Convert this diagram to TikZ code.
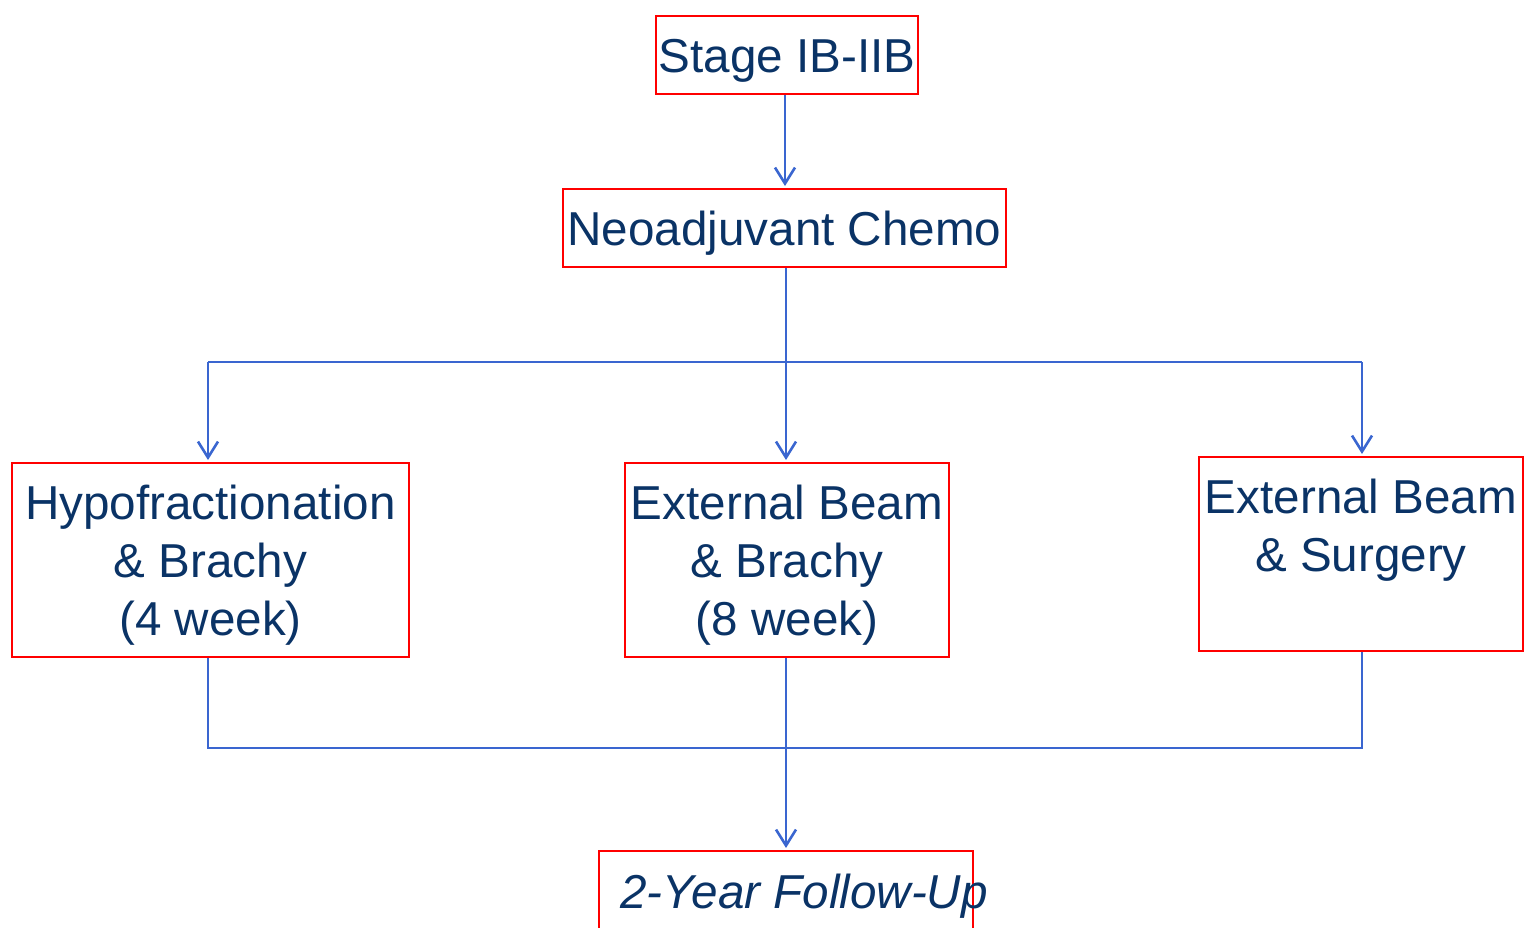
\documentclass[tikz,border=0pt]{standalone}
\usepackage{fontspec}
\setmainfont{Liberation Sans}
\usetikzlibrary{arrows.meta}
\definecolor{navy}{HTML}{0A3366}
\definecolor{lineblue}{HTML}{3A66D0}
\newcommand{\lift}{\rule{0pt}{44pt}}
\begin{document}
\begin{tikzpicture}[x=1pt,y=-1pt,
  box/.style={draw=red, line width=2pt, inner sep=0pt, align=center, text=navy,
    font=\fontsize{47.6}{58}\selectfont},
  conn/.style={draw=lineblue, line width=2.6pt},
  arr/.style={conn, shorten >=2pt, -{Straight Barb[length=16pt,width=20pt,line width=2.6pt]}}]
\useasboundingbox (0,0) rectangle (1524,927);
\clip (0,0) rectangle (1524,927);
\node[box, minimum width=262pt, minimum height=78pt] (stage) at (787,55) {\lift Stage IB-IIB};
\node[box, minimum width=443pt, minimum height=78pt] (neo) at (784.5,228) {\lift Neoadjuvant Chemo};
\node[box, minimum width=397pt, minimum height=194pt] (hypo) at (210.5,560) {\lift Hypofractionation\\\& Brachy\\(4 week)};
\node[box, minimum width=324pt, minimum height=194pt] (ebb) at (787,560) {\lift External Beam\\\& Brachy\\(8 week)};
\node[box, minimum width=324pt, minimum height=194pt] (ebs) at (1361,554) {\lift External Beam\\\& Surgery\\\vphantom{(8 week)}};
\node[box, minimum width=374pt, minimum height=110pt] (fu) at (786,906) {};
\node[text=navy, inner sep=0pt, anchor=base west, font=\fontsize{47.6}{58}\selectfont\itshape] (futext) at (620,908) {2-Year Follow-Up};
\coordinate (split) at (786,362);
\coordinate (lsplit) at (208,362);
\coordinate (rsplit) at (1362,362);
\coordinate (join) at (786,748);
\coordinate (sx) at (785,0);
\draw[arr] (stage.south -| sx) -- (neo.north -| sx);
\draw[arr] (neo.south -| split) -- (ebb.north -| split);
\draw[conn] (lsplit) -- (rsplit);
\draw[arr] (lsplit) -- (lsplit |- hypo.north);
\draw[arr] (rsplit) -- (rsplit |- ebs.north);
\draw[conn] (hypo.south -| lsplit) -- (lsplit |- join) -- (rsplit |- join) -- (rsplit |- ebs.south);
\draw[arr] (ebb.south -| join) -- (fu.north -| join);
\end{tikzpicture}
\end{document}
